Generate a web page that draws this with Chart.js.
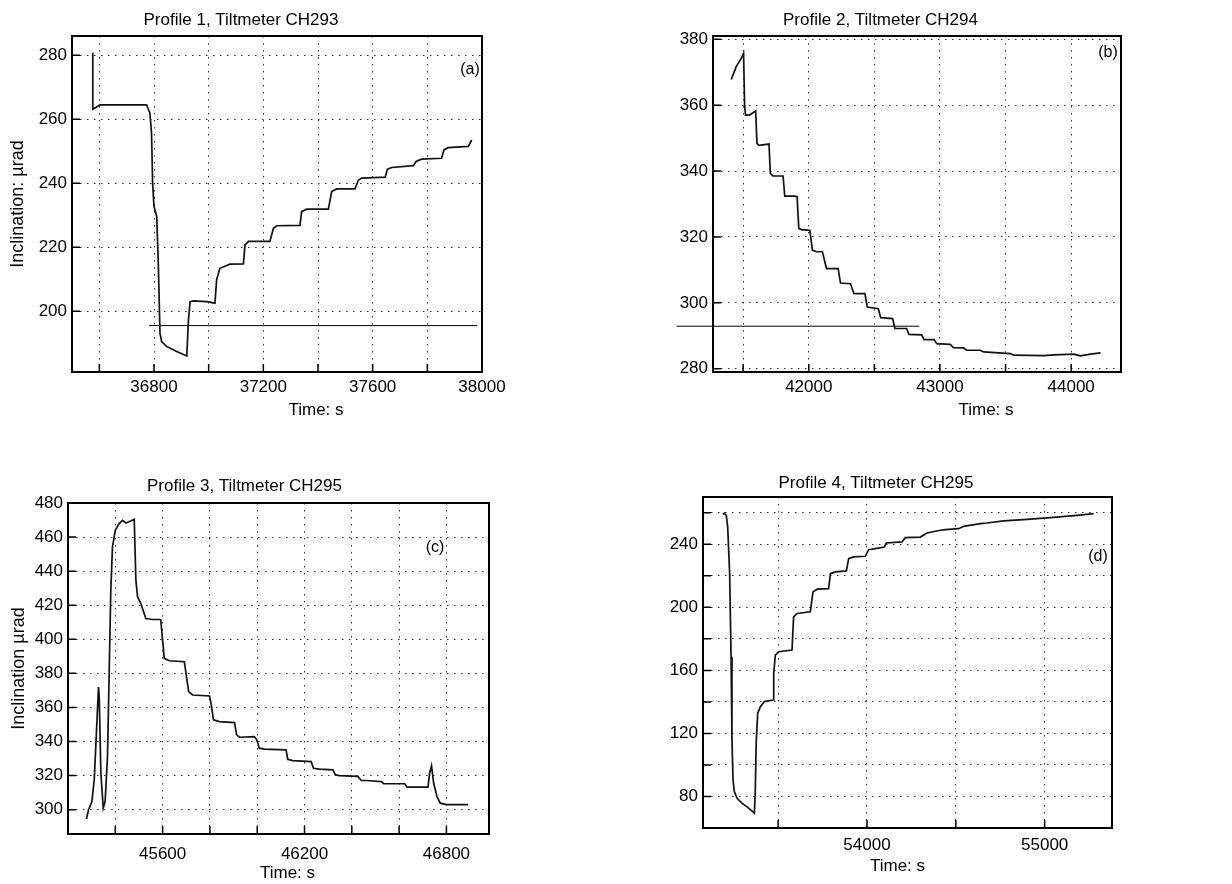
<!DOCTYPE html>
<html>
<head>
<meta charset="utf-8">
<script src="https://cdn.jsdelivr.net/npm/chart.js@4.4.1/dist/chart.umd.min.js"></script>
<style>
  body { margin: 0; background: #fff; }
  .panel { position: absolute; }
</style>
</head>
<body>
<div class="panel" style="left:0px;top:0px;width:512px;height:420px"><canvas id="chartA"></canvas></div>
<div class="panel" style="left:640px;top:0px;width:510px;height:420px"><canvas id="chartB"></canvas></div>
<div class="panel" style="left:0px;top:474px;width:519px;height:409px"><canvas id="chartC"></canvas></div>
<div class="panel" style="left:640px;top:470px;width:502px;height:406px"><canvas id="chartD"></canvas></div>
<script>
// Profile 1, CH293
const timeA = [36576, 36576, 36590, 36602, 36773, 36785, 36791, 36795, 36800, 36810, 36816, 36822, 36828, 36846, 36883, 36920, 36926, 36932, 36944, 36993, 37023, 37029, 37041, 37078, 37127, 37133, 37146, 37224, 37237, 37249, 37334, 37340, 37359, 37438, 37450, 37468, 37535, 37548, 37560, 37646, 37654, 37670, 37749, 37759, 37779, 37852, 37861, 37876, 37950, 37962];
const tiltA = [280.8, 263.1, 263.8, 264.5, 264.5, 261.9, 255.6, 240, 232.7, 229.6, 214, 193, 190.5, 189, 187.4, 186, 197.3, 203, 203.2, 203, 202.5, 209.8, 213.4, 214.7, 214.8, 220.7, 221.8, 221.8, 225.9, 226.7, 226.8, 231.1, 231.9, 231.9, 237.4, 238.2, 238.2, 241, 241.6, 241.9, 244.4, 244.9, 245.5, 246.8, 247.5, 247.8, 250.4, 251.1, 251.5, 253.5];
const refTimeA = [36782, 37982];
const refTiltA = [195.5, 195.5];
const xTicksA = [36600, 36800, 37000, 37200, 37400, 37600, 37800, 38000];
const xLabelsA = [36800, 37200, 37600, 38000];
const yTicksA = [200, 220, 240, 260, 280];

// Profile 2, CH294
const timeB = [41409, 41447, 41485, 41503, 41511, 41518, 41549, 41595, 41605, 41620, 41697, 41707, 41727, 41804, 41817, 41893, 41911, 41924, 41944, 42008, 42028, 42059, 42104, 42135, 42224, 42242, 42318, 42344, 42428, 42446, 42530, 42548, 42639, 42657, 42746, 42764, 42861, 42879, 42955, 42976, 43078, 43103, 43180, 43205, 43307, 43332, 43536, 43562, 43791, 43868, 44020, 44071, 44148, 44224];
const tiltB = [367.8, 371.7, 374.2, 375.7, 360, 357, 357, 358.3, 348.4, 347.8, 348.2, 339.3, 338.5, 338.5, 332.4, 332.4, 332.2, 322.6, 322.2, 322, 316, 315.5, 315.5, 310.4, 310.4, 306, 305.8, 302.8, 302.8, 298.7, 298.2, 295.5, 295.2, 292.2, 292.2, 290.4, 290.3, 288.8, 288.8, 287.6, 287.4, 286.4, 286.3, 285.6, 285.6, 285.1, 284.6, 284.1, 284, 284.2, 284.4, 283.9, 284.4, 284.8];
const refTimeB = [40993, 42843];
const refTiltB = [292.9, 292.9];
const xTicksB = [41500, 42000, 42500, 43000, 43500, 44000];
const xLabelsB = [42000, 43000, 44000];
const yTicksB = [280, 300, 320, 340, 360, 380];

// Profile 3, CH295
const timeC = [45278, 45287, 45301, 45311, 45320, 45329, 45332, 45339, 45349, 45357, 45367, 45374, 45381, 45388, 45400, 45416, 45431, 45445, 45462, 45480, 45487, 45494, 45508, 45529, 45556, 45592, 45600, 45607, 45628, 45692, 45699, 45710, 45727, 45798, 45805, 45815, 45840, 45904, 45913, 45925, 45988, 45998, 46009, 46031, 46122, 46129, 46150, 46228, 46238, 46263, 46320, 46331, 46348, 46426, 46440, 46461, 46525, 46535, 46624, 46633, 46722, 46729, 46737, 46746, 46760, 46774, 46800, 46892];
const tiltC = [294.5, 300, 304.8, 317.5, 344.8, 372, 366.3, 321.4, 300.9, 304.8, 331.2, 380, 428.8, 454.2, 464, 467.9, 469.8, 468.3, 469.3, 470.4, 434.7, 424.9, 421, 412.2, 411.6, 411.6, 399.5, 388.8, 387.4, 386.8, 380, 369.3, 367.3, 366.7, 362.4, 352.7, 351.7, 351.1, 343.9, 342.5, 342.9, 341, 336.1, 335.5, 335.1, 329.6, 328.8, 328.2, 324.3, 323.8, 323.4, 320.4, 320, 319.5, 317.1, 317.1, 316.5, 315.2, 315.2, 313.2, 313.2, 321.4, 325.7, 315.5, 307.7, 303.8, 302.9, 302.9];
const xTicksC = [45400, 45600, 45800, 46000, 46200, 46400, 46600, 46800];
const xLabelsC = [45600, 46200, 46800];
const yTicksC = [300, 320, 340, 360, 380, 400, 420, 440, 460, 480];

// Profile 4, CH295
const timeD = [53189, 53197, 53208, 53216, 53227, 53235, 53240, 53246, 53253, 53268, 53296, 53334, 53366, 53371, 53377, 53385, 53400, 53422, 53471, 53475, 53484, 53503, 53578, 53587, 53606, 53681, 53696, 53719, 53784, 53794, 53822, 53884, 53897, 53925, 53991, 54009, 54047, 54098, 54109, 54197, 54216, 54300, 54338, 54413, 54441, 54516, 54544, 54638, 54675, 54769, 54901, 55032, 55182, 55276];
const tiltD = [259, 259.8, 258.4, 251, 221.4, 168.7, 115.9, 90.6, 83.2, 79, 75.8, 72.6, 69.4, 82.1, 115.9, 132.8, 137, 140.2, 141.2, 158.1, 169.7, 171.8, 172.9, 194, 196.1, 197.2, 209.8, 211.5, 211.9, 221.4, 222.5, 223.1, 230.9, 232, 232.4, 236.6, 237.3, 238.3, 240.8, 241.5, 244.2, 244.6, 247.2, 248.9, 249.3, 249.9, 251.4, 253.1, 253.5, 254.8, 255.8, 256.9, 258.4, 259.4];
const xTicksD = [53500, 54000, 54500, 55000];
const xLabelsD = [54000, 55000];
const yTicksD = [80, 100, 120, 140, 160, 180, 200, 220, 240, 260];
const yLabelsD = [80, 120, 160, 200, 240];

const FONT = '"Liberation Sans", Arial, sans-serif';

function pts(xs, ys) {
    return xs.map((x, i) => ({ x: x, y: ys[i] }));
}

// box around the plot area, inward tick marks, panel letter, x title
const framePlugin = {
    id: 'frame',
    afterDatasetsDraw(chart, args, opts) {
        const a = chart.chartArea;
        const c = chart.ctx;
        const sx = chart.scales.x;
        const sy = chart.scales.y;
        c.save();
        c.strokeStyle = '#000';
        c.lineWidth = 1.5;
        c.beginPath();
        sx.ticks.forEach((t) => {
            const px = sx.getPixelForValue(t.value);
            if (px > a.left + 2 && px < a.right - 2) {
                c.moveTo(px, a.bottom);
                c.lineTo(px, a.bottom - opts.tick);
            }
        });
        sy.ticks.forEach((t) => {
            const py = sy.getPixelForValue(t.value);
            if (py > a.top + 2 && py < a.bottom - 2) {
                c.moveTo(a.left, py);
                c.lineTo(a.left + opts.tick, py);
            }
        });
        c.stroke();
        c.lineWidth = 2;
        c.strokeRect(a.left, a.top, a.right - a.left, a.bottom - a.top);
        c.fillStyle = '#000';
        c.textAlign = 'center';
        c.textBaseline = 'middle';
        c.font = '16px ' + FONT;
        c.fillText(opts.text, a.right + opts.dx, a.top + opts.dy);
        // x axis title sits off-centre in the original
        c.font = '17px ' + FONT;
        c.fillText('Time: s', (a.left + a.right) / 2 + opts.titleDx, a.bottom + opts.titleDy);
        c.restore();
    }
};

function makePanel(id, p) {
    const datasets = [{
        data: pts(p.xs, p.ys),
        borderColor: '#111',
        borderWidth: 1.7,
        pointRadius: 0
    }];
    if (p.refX) {
        datasets.push({
            data: pts(p.refX, p.refY),
            borderColor: '#000',
            borderWidth: 1,
            pointRadius: 0,
            clip: false
        });
    }
    const yLabels = p.yLabels || p.yTicks;
    new Chart(document.getElementById(id), {
        type: 'line',
        data: { datasets: datasets },
        plugins: [framePlugin],
        options: {
            maintainAspectRatio: false,
            animation: false,
            layout: { padding: { left: 0, right: p.padRight, top: 0, bottom: 0 } },
            plugins: {
                legend: { display: false },
                tooltip: { enabled: false },
                title: {
                    display: true,
                    text: p.title,
                    color: '#000',
                    font: { family: FONT, size: 17, weight: 'normal' },
                    padding: { top: p.titleTop, bottom: p.titleBottom }
                },
                frame: { text: p.tag, dx: p.tagDx, dy: p.tagDy, tick: 8, titleDx: p.xTitleDx, titleDy: p.xTitleDy }
            },
            scales: {
                x: {
                    type: 'linear',
                    min: p.xMin,
                    max: p.xMax,
                    afterFit: (s) => { s.height = p.xH; },
                    afterBuildTicks: (s) => { s.ticks = p.xTicks.map((v) => ({ value: v })); },
                    grid: { color: '#333', drawTicks: false },
                    border: { color: '#000', dash: [1.5, 5.5] },
                    ticks: {
                        autoSkip: false,
                        maxRotation: 0,
                        padding: p.xPad,
                        color: '#000',
                        font: { family: FONT, size: 17 },
                        callback: (v) => (p.xLabels.includes(v) ? String(v) : '')
                    }
                },
                y: {
                    min: p.yMin,
                    max: p.yMax,
                    afterFit: (s) => { s.width = p.yW; },
                    afterBuildTicks: (s) => { s.ticks = p.yTicks.map((v) => ({ value: v })); },
                    grid: { color: '#333', drawTicks: false },
                    border: { color: '#000', dash: [1.5, 5.5] },
                    ticks: {
                        autoSkip: false,
                        padding: 5,
                        color: '#000',
                        font: { family: FONT, size: 17 },
                        callback: (v) => (yLabels.includes(v) ? String(v) : '')
                    },
                    title: {
                        display: !!p.yTitle,
                        text: p.yTitle || '',
                        color: '#000',
                        font: { family: FONT, size: 18 },
                        padding: { top: p.yTitlePad || 0, bottom: 0 }
                    }
                }
            }
        }
    });
}

makePanel('chartA', {
    xs: timeA, ys: tiltA, refX: refTimeA, refY: refTiltA,
    xTicks: xTicksA, xLabels: xLabelsA, yTicks: yTicksA,
    title: 'Profile 1, Tiltmeter CH293', tag: '(a)', tagDx: -12, tagDy: 34,
    xMin: 36500, xMax: 38000, yMin: 181, yMax: 286,
    yTitle: 'Inclination: \u00b5rad', yTitlePad: 7.2,
    yW: 72, xH: 48, padRight: 30, titleTop: 9.8, titleBottom: 5.8, xPad: 5.3,
    xTitleDx: 39, xTitleDy: 38.5
});

makePanel('chartB', {
    xs: timeB, ys: tiltB, refX: refTimeB, refY: refTiltB,
    xTicks: xTicksB, xLabels: xLabelsB, yTicks: yTicksB,
    title: 'Profile 2, Tiltmeter CH294', tag: '(b)', tagDx: -13, tagDy: 17,
    xMin: 41270, xMax: 44380, yMin: 279, yMax: 381,
    yW: 73, xH: 48, padRight: 29, titleTop: 10.5, titleBottom: 5.1, xPad: 5.3,
    xTitleDx: 69, xTitleDy: 38.5
});

makePanel('chartC', {
    xs: timeC, ys: tiltC,
    xTicks: xTicksC, xLabels: xLabelsC, yTicks: yTicksC,
    title: 'Profile 3, Tiltmeter CH295', tag: '(c)', tagDx: -54, tagDy: 45,
    xMin: 45200, xMax: 46980, yMin: 285.7, yMax: 480,
    yTitle: 'Inclination \u00b5rad', yTitlePad: 8.2,
    yW: 68, xH: 49, padRight: 30, titleTop: 2.5, titleBottom: 6.1, xPad: 9.8,
    xTitleDx: 9, xTitleDy: 39
});

makePanel('chartD', {
    xs: timeD, ys: tiltD,
    xTicks: xTicksD, xLabels: xLabelsD, yTicks: yTicksD, yLabels: yLabelsD,
    title: 'Profile 4, Tiltmeter CH295', tag: '(d)', tagDx: -14, tagDy: 60,
    xMin: 53077, xMax: 55379, yMin: 60, yMax: 270,
    yW: 63, xH: 48, padRight: 30, titleTop: 3.1, titleBottom: 3.5, xPad: 6.8,
    xTitleDx: -10, xTitleDy: 38.7
});
</script>
</body>
</html>
